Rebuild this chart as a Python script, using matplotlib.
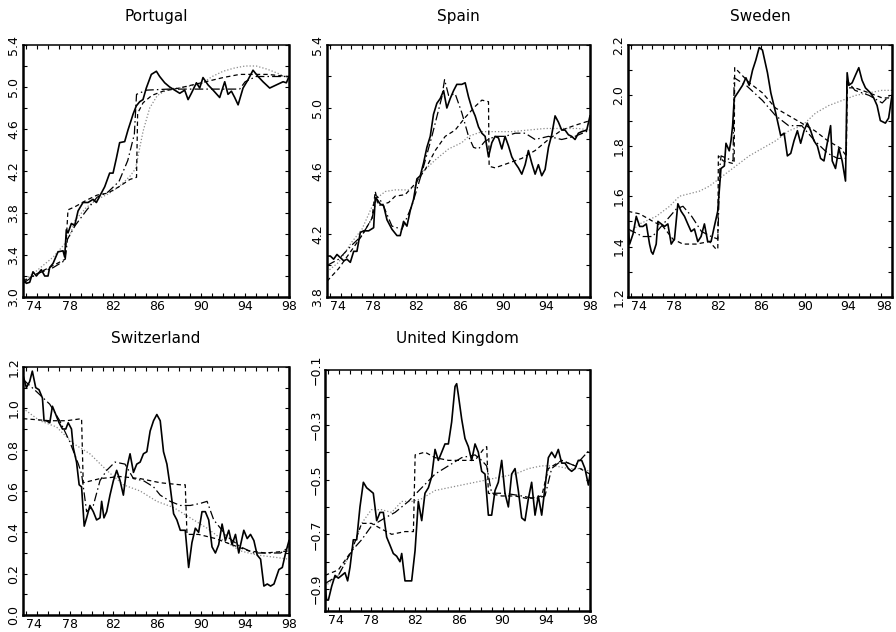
import matplotlib
matplotlib.use('Agg')
import matplotlib.pyplot as plt
from matplotlib.ticker import MultipleLocator, FixedLocator, FuncFormatter

# ---------------- data (years as two-digit years, quarterly-ish readings) ----------------
countries = ["Portugal", "Spain", "Sweden", "Switzerland", "United Kingdom"]

# Portugal
pt_solid_t = [73.75,74.05,74.36,74.66,74.97,75.42,75.73,76.03,76.18,76.49,76.94,77.40,77.55,77.70,77.85,78.16,78.46,78.77,79.22,79.68,80.13,80.44,80.74,81.20,81.65,81.96,82.26,82.56,83.02,83.32,83.63,83.78,84.08,84.39,84.69,84.99,85.45,85.91,86.21,86.67,87.12,87.58,88.04,88.49,88.80,89.10,89.56,89.86,90.16,90.62,91.08,91.68,92.14,92.44,92.75,93.05,93.36,93.81,94.27,94.72,95.18,95.63,96.24,96.85,97.46,97.76,98.00]
pt_solid_v = [3.18,3.13,3.14,3.24,3.20,3.26,3.20,3.20,3.28,3.32,3.43,3.44,3.38,3.64,3.61,3.70,3.68,3.82,3.90,3.90,3.93,3.90,3.96,4.05,4.18,4.18,4.32,4.47,4.48,4.59,4.69,4.74,4.82,4.86,4.88,4.99,5.12,5.15,5.10,5.04,5.00,4.97,4.94,4.97,4.88,4.94,5.04,4.99,5.09,5.02,4.97,4.90,5.05,4.93,4.96,4.90,4.83,4.99,5.07,5.16,5.10,5.05,4.99,5.02,5.05,5.04,5.10]
pt_dash_t = [73.75,75.0,76.5,77.6,77.85,78.5,79.5,80.5,81.5,82.5,83.5,84.1,84.2,84.7,85.5,86.5,88.0,90.0,92.0,93.5,96.0,98.0]
pt_dash_v = [3.15,3.22,3.30,3.36,3.83,3.86,3.92,3.97,3.99,4.05,4.12,4.14,4.75,4.85,4.92,4.96,4.99,5.04,5.09,5.12,5.12,5.10]
pt_dd_t = [73.75,75.0,76.5,77.6,77.8,78.5,79.5,80.5,81.5,82.5,83.3,83.9,84.1,85.0,87.0,90.0,93.5,94.0,95.0,98.0]
pt_dd_v = [3.13,3.22,3.28,3.35,3.55,3.68,3.82,3.95,4.00,4.10,4.30,4.55,4.93,4.97,4.98,4.98,4.98,5.05,5.10,5.10]
pt_dot_t = [73.75,75.0,76.5,77.5,78.0,78.5,79.5,80.5,81.5,82.5,83.5,84.0,84.7,85.3,86.0,87.0,88.5,90.0,91.0,92.0,93.0,94.0,95.0,96.0,97.0,98.0]
pt_dot_v = [3.15,3.25,3.38,3.50,3.58,3.73,3.85,3.93,3.98,4.05,4.15,4.22,4.58,4.80,4.92,4.98,5.00,5.03,5.10,5.15,5.18,5.20,5.20,5.17,5.13,5.08]

# Spain
es_solid_t = [73.75,74.06,74.36,74.67,74.98,75.29,75.59,75.90,76.21,76.51,76.82,77.13,77.59,78.05,78.20,78.36,78.66,78.97,79.28,79.74,80.20,80.50,80.81,81.12,81.43,81.73,82.04,82.35,82.65,82.96,83.27,83.57,83.88,84.19,84.50,84.80,85.11,85.42,85.72,86.18,86.49,86.80,87.10,87.41,87.72,88.03,88.33,88.64,88.95,89.25,89.56,89.87,90.17,90.48,90.79,91.10,91.40,91.71,92.02,92.32,92.63,92.94,93.24,93.55,93.86,94.17,94.47,94.78,95.09,95.39,95.70,96.01,96.31,96.62,96.93,97.24,97.70,98.00]
es_solid_v = [4.06,4.06,4.04,4.07,4.05,4.03,4.04,4.02,4.09,4.09,4.21,4.22,4.22,4.24,4.43,4.42,4.39,4.38,4.29,4.23,4.19,4.19,4.28,4.25,4.35,4.42,4.55,4.57,4.65,4.75,4.82,4.96,5.03,5.06,5.11,5.00,5.06,5.11,5.15,5.15,5.16,5.07,5.00,4.95,4.88,4.84,4.82,4.69,4.78,4.82,4.81,4.74,4.82,4.76,4.69,4.65,4.62,4.58,4.64,4.73,4.65,4.58,4.64,4.57,4.61,4.75,4.83,4.95,4.91,4.86,4.86,4.83,4.82,4.80,4.84,4.85,4.86,4.95]
es_dash_t = [73.75,74.82,76.05,76.97,77.9,78.2,78.5,79.43,80.04,80.96,81.89,82.81,83.73,84.65,85.57,86.49,87.41,88.03,88.64,88.7,89.25,90.48,91.71,92.94,94.17,95.39,96.62,98.0]
es_dash_v = [3.90,3.98,4.10,4.19,4.30,4.47,4.38,4.40,4.44,4.45,4.52,4.61,4.73,4.82,4.86,4.94,5.01,5.05,5.04,4.63,4.62,4.65,4.68,4.73,4.80,4.86,4.89,4.92]
es_dd_t = [73.75,74.82,76.05,76.97,77.9,78.36,78.82,79.74,80.66,81.58,82.5,83.42,84.34,84.59,84.96,85.57,86.18,86.8,87.26,87.72,88.33,89.25,90.17,91.1,92.02,92.94,94.17,95.39,96.62,98.0]
es_dd_v = [4.00,4.04,4.13,4.19,4.30,4.44,4.40,4.25,4.23,4.38,4.59,4.82,5.07,5.18,5.08,5.09,4.97,4.82,4.75,4.74,4.79,4.82,4.82,4.84,4.84,4.80,4.82,4.80,4.82,4.86]
es_dot_t = [73.75,74.82,76.05,76.97,78.2,79.13,80.04,81.27,81.89,82.5,83.73,84.96,86.18,86.8,88.03,89.25,90.79,92.32,93.86,95.39,96.93,98.0]
es_dot_v = [3.96,4.02,4.15,4.23,4.42,4.47,4.48,4.48,4.50,4.59,4.67,4.74,4.78,4.82,4.85,4.85,4.85,4.86,4.87,4.87,4.87,4.86]

# Sweden
se_solid_t = [73.75,73.90,74.21,74.51,74.82,75.12,75.43,75.73,75.89,76.04,76.34,76.50,76.80,77.11,77.41,77.72,78.02,78.33,78.63,78.94,79.24,79.55,79.85,80.16,80.46,80.77,81.07,81.38,81.68,81.99,82.29,82.60,82.75,83.05,83.21,83.36,83.51,83.82,84.27,84.58,84.88,85.19,85.49,85.80,86.10,86.56,86.87,87.32,87.78,88.09,88.39,88.70,89.00,89.31,89.61,89.92,90.22,90.53,90.83,91.14,91.44,91.75,92.05,92.36,92.51,92.81,93.12,93.42,93.73,93.88,94.03,94.34,94.64,94.95,95.25,95.56,96.02,96.32,96.63,96.93,97.39,97.69,98.00]
se_solid_v = [1.48,1.41,1.45,1.52,1.48,1.48,1.49,1.41,1.38,1.37,1.41,1.50,1.49,1.48,1.49,1.41,1.43,1.57,1.54,1.52,1.49,1.46,1.47,1.42,1.44,1.49,1.42,1.42,1.48,1.54,1.71,1.72,1.81,1.78,1.82,1.88,1.99,2.01,2.04,2.07,2.04,2.10,2.14,2.19,2.18,2.09,2.01,1.93,1.84,1.85,1.76,1.77,1.82,1.86,1.81,1.86,1.89,1.86,1.82,1.80,1.75,1.74,1.81,1.88,1.74,1.71,1.79,1.74,1.66,2.09,2.04,2.05,2.08,2.11,2.06,2.03,2.01,1.99,1.96,1.90,1.89,1.91,2.00]
se_dash_t = [73.75,74.82,76.04,76.96,77.87,78.79,80.01,81.23,81.84,82.0,82.05,82.5,83.36,83.5,83.55,84.9,86.1,87.3,88.5,89.7,90.9,92.1,93.3,93.8,93.9,94.6,95.9,97.1,98.0]
se_dash_v = [1.54,1.53,1.50,1.48,1.43,1.41,1.41,1.42,1.39,1.39,1.76,1.74,1.73,1.73,2.11,2.05,2.01,1.95,1.92,1.89,1.86,1.82,1.79,1.76,2.03,2.03,2.01,1.99,1.99]
se_dd_t = [73.75,75.1,76.0,77.0,78.2,78.8,79.6,80.5,81.4,82.0,82.2,82.3,83.4,83.5,84.6,86.1,87.3,88.5,89.7,90.9,92.1,93.0,93.8,93.85,94.6,95.9,97.1,98.0]
se_dd_v = [1.47,1.44,1.44,1.49,1.55,1.56,1.52,1.46,1.44,1.43,1.72,1.76,1.74,2.07,2.04,1.98,1.92,1.88,1.88,1.82,1.77,1.75,1.75,2.06,2.02,2.00,1.97,2.01]
se_dot_t = [73.75,74.82,76.34,77.57,78.48,79.4,80.31,81.23,82.14,83.05,83.97,84.88,86.1,87.32,88.54,89.76,90.98,92.2,93.42,94.64,95.86,97.08,98.0]
se_dot_v = [1.45,1.49,1.52,1.56,1.60,1.61,1.62,1.64,1.67,1.70,1.73,1.76,1.79,1.82,1.86,1.88,1.93,1.96,1.98,2.00,2.01,2.02,2.02]

# Switzerland
ch_solid_t = [73.75,74.06,74.36,74.60,74.91,75.21,75.52,75.67,75.89,76.19,76.43,76.74,77.04,77.35,77.65,77.87,78.17,78.33,78.63,78.87,79.09,79.33,79.55,79.85,80.16,80.46,80.77,80.92,81.13,81.38,81.68,81.99,82.29,82.60,82.90,83.21,83.51,83.82,84.12,84.43,84.73,85.04,85.34,85.65,85.95,86.26,86.56,86.87,87.17,87.48,87.78,88.09,88.54,88.85,89.15,89.46,89.76,90.07,90.37,90.68,90.98,91.29,91.59,91.90,92.20,92.51,92.81,93.12,93.42,93.88,94.19,94.49,94.80,95.10,95.41,95.71,96.02,96.32,96.63,97.08,97.39,97.69,98.00]
ch_solid_v = [1.16,1.10,1.13,1.18,1.10,1.09,1.05,0.94,0.94,0.93,1.01,0.97,0.93,0.90,0.90,0.93,0.90,0.81,0.74,0.63,0.62,0.43,0.47,0.53,0.50,0.46,0.47,0.55,0.47,0.50,0.58,0.65,0.70,0.65,0.58,0.71,0.78,0.69,0.73,0.74,0.78,0.79,0.89,0.94,0.97,0.94,0.79,0.73,0.62,0.49,0.46,0.41,0.41,0.23,0.35,0.42,0.40,0.50,0.50,0.46,0.33,0.30,0.34,0.44,0.36,0.41,0.34,0.39,0.30,0.41,0.37,0.39,0.36,0.29,0.27,0.14,0.15,0.14,0.15,0.22,0.23,0.30,0.36]
ch_dash_t = [73.75,76.19,77.72,79.09,79.24,80.77,82.6,84.43,86.26,88.09,88.54,88.7,89.76,91.29,92.81,94.34,95.86,98.0]
ch_dash_v = [0.95,0.94,0.94,0.95,0.64,0.66,0.67,0.66,0.64,0.63,0.63,0.39,0.39,0.37,0.34,0.31,0.30,0.31]
ch_dd_t = [73.75,75.0,76.19,77.1,78.0,78.8,79.1,79.55,80.16,80.77,81.38,82.14,83.05,83.82,84.73,85.65,86.26,87.17,88.09,89.0,89.92,90.53,91.14,92.36,93.58,94.8,96.02,97.24,98.0]
ch_dd_v = [1.14,1.08,1.02,0.94,0.84,0.73,0.68,0.50,0.53,0.65,0.70,0.74,0.73,0.66,0.65,0.62,0.58,0.55,0.53,0.53,0.54,0.55,0.46,0.38,0.33,0.30,0.30,0.30,0.33]
ch_dot_t = [73.75,75.28,76.8,78.33,79.85,81.38,82.9,84.43,85.95,87.48,89.0,90.53,92.05,93.58,95.1,96.63,98.0]
ch_dot_v = [1.00,0.94,0.91,0.83,0.78,0.70,0.63,0.60,0.55,0.52,0.47,0.42,0.36,0.31,0.29,0.28,0.27]

# United Kingdom
uk_solid_t = [73.75,73.90,74.06,74.36,74.67,74.97,75.28,75.58,75.82,76.04,76.34,76.65,76.95,77.26,77.56,77.87,78.17,78.48,78.78,79.09,79.39,79.70,80.00,80.31,80.61,80.77,81.07,81.38,81.68,81.99,82.29,82.60,82.90,83.21,83.51,83.82,84.12,84.43,84.73,85.04,85.34,85.65,85.80,85.95,86.26,86.56,86.87,87.17,87.48,87.78,88.09,88.39,88.70,89.00,89.31,89.61,89.92,90.22,90.53,90.83,91.14,91.44,91.75,92.05,92.36,92.66,92.97,93.27,93.58,93.88,94.19,94.49,94.80,95.10,95.41,95.71,96.02,96.32,96.63,96.93,97.24,97.54,97.85,98.00]
uk_solid_v = [-0.89,-0.94,-0.94,-0.89,-0.85,-0.86,-0.85,-0.84,-0.87,-0.82,-0.72,-0.72,-0.60,-0.51,-0.53,-0.54,-0.55,-0.65,-0.62,-0.62,-0.71,-0.74,-0.77,-0.78,-0.80,-0.77,-0.87,-0.87,-0.87,-0.76,-0.58,-0.65,-0.55,-0.53,-0.49,-0.39,-0.43,-0.40,-0.37,-0.37,-0.29,-0.16,-0.15,-0.19,-0.28,-0.35,-0.38,-0.43,-0.37,-0.40,-0.47,-0.48,-0.63,-0.63,-0.54,-0.51,-0.43,-0.55,-0.60,-0.48,-0.46,-0.54,-0.64,-0.65,-0.57,-0.51,-0.63,-0.56,-0.63,-0.53,-0.42,-0.40,-0.42,-0.39,-0.44,-0.44,-0.46,-0.47,-0.46,-0.43,-0.43,-0.46,-0.52,-0.48]
uk_dash_t = [73.75,74.97,76.2,77.1,78.0,78.9,79.85,81.07,81.84,82.0,82.9,83.82,85.04,86.26,87.48,88.24,88.55,88.7,89.92,91.14,92.36,93.58,94.19,95.41,96.63,98.0]
uk_dash_v = [-0.85,-0.83,-0.76,-0.66,-0.66,-0.68,-0.70,-0.69,-0.69,-0.41,-0.40,-0.42,-0.43,-0.43,-0.43,-0.39,-0.38,-0.55,-0.56,-0.56,-0.57,-0.56,-0.46,-0.43,-0.45,-0.48]
uk_dd_t = [73.75,74.97,76.2,77.1,78.0,79.24,80.16,81.38,82.6,83.82,85.04,86.26,87.48,88.09,88.54,89.0,90.22,91.75,92.97,93.88,94.49,95.41,96.63,97.54,98.0]
uk_dd_v = [-0.88,-0.85,-0.76,-0.72,-0.67,-0.64,-0.62,-0.58,-0.53,-0.48,-0.45,-0.42,-0.41,-0.43,-0.45,-0.55,-0.55,-0.56,-0.57,-0.56,-0.46,-0.43,-0.45,-0.41,-0.39]
uk_dot_t = [73.75,74.97,76.2,77.1,78.0,78.9,79.85,80.77,81.7,82.6,83.82,85.04,86.26,87.48,88.7,89.92,91.14,92.36,93.58,94.8,96.02,97.24,98.0]
uk_dot_v = [-0.89,-0.85,-0.76,-0.66,-0.61,-0.61,-0.62,-0.58,-0.58,-0.57,-0.54,-0.53,-0.52,-0.51,-0.50,-0.49,-0.48,-0.46,-0.45,-0.45,-0.46,-0.46,-0.47]

x_ticks = [74, 78, 82, 86, 90, 94, 98]
y_limits = [(3.0, 5.4), (3.8, 5.4), (1.2, 2.2), (0.0, 1.2), (-0.98, -0.1)]
y_ticks = [[3.0, 3.4, 3.8, 4.2, 4.6, 5.0, 5.4],
           [3.8, 4.2, 4.6, 5.0, 5.4],
           [1.2, 1.4, 1.6, 1.8, 2.0, 2.2],
           [0.0, 0.2, 0.4, 0.6, 0.8, 1.0, 1.2],
           [-0.9, -0.7, -0.5, -0.3, -0.1]]

series = [
    (pt_solid_t, pt_solid_v, pt_dash_t, pt_dash_v, pt_dd_t, pt_dd_v, pt_dot_t, pt_dot_v),
    (es_solid_t, es_solid_v, es_dash_t, es_dash_v, es_dd_t, es_dd_v, es_dot_t, es_dot_v),
    (se_solid_t, se_solid_v, se_dash_t, se_dash_v, se_dd_t, se_dd_v, se_dot_t, se_dot_v),
    (ch_solid_t, ch_solid_v, ch_dash_t, ch_dash_v, ch_dd_t, ch_dd_v, ch_dot_t, ch_dot_v),
    (uk_solid_t, uk_solid_v, uk_dash_t, uk_dash_v, uk_dd_t, uk_dd_v, uk_dot_t, uk_dot_v),
]

# ---------------- layout (pixel boxes: left, top, right, bottom) ----------------
W, H = 896, 632
boxes = [(23, 45, 289, 297), (327, 45, 590, 297), (628, 45, 892, 297),
         (23, 367, 289, 615), (325, 370, 590, 611)]
title_baseline = [21, 21, 21, 343, 343]

plt.rcParams['font.family'] = ['DejaVu Sans']
fig = plt.figure(figsize=(W / 100, H / 100), dpi=100)
fig.patch.set_facecolor('white')

for i, name in enumerate(countries):
    l, t, r, b = boxes[i]
    ax = fig.add_axes([l / W, 1 - b / H, (r - l) / W, (b - t) / H])
    st, sv, dt, dv, ddt, ddv, ot, ov = series[i]
    ax.plot(ot, ov, color='#8a8a8a', lw=0.9, linestyle=(0, (1, 1.6)))
    ax.plot(dt, dv, color='black', lw=0.9, linestyle=(0, (3.5, 2.5)))
    ax.plot(ddt, ddv, color='black', lw=0.9, linestyle=(0, (7, 2.5, 1.2, 2.5)))
    ax.plot(st, sv, color='black', lw=1.2, linestyle='-')

    ax.set_xlim(73.75, 98.0)
    ax.set_ylim(*y_limits[i])
    ax.xaxis.set_major_locator(FixedLocator(x_ticks))
    ax.xaxis.set_minor_locator(MultipleLocator(1))
    ax.set_xticklabels([str(v) for v in x_ticks])
    yt = y_ticks[i]
    ax.yaxis.set_major_locator(FixedLocator(yt))
    step = yt[1] - yt[0]
    ax.yaxis.set_minor_locator(MultipleLocator(step / 2))
    ax.yaxis.set_major_formatter(FuncFormatter(lambda v, p: ('%.1f' % v).replace('-', '\u2212')))
    ax.tick_params(axis='both', which='both', direction='in', top=True, right=True,
                   length=3, width=0.8, labelsize=9, pad=2)
    ax.tick_params(axis='y', which='major', labelrotation=90)
    for lab in ax.get_yticklabels():
        lab.set_va('center')
    xl = ax.get_xticklabels()
    xl[0].set_ha('left')
    if r > 880:
        xl[-1].set_ha('right')
    for side in ['left', 'bottom', 'right']:
        ax.spines[side].set_linewidth(1.8)
    ax.spines['top'].set_linewidth(1.1)
    fig.text(((l + r) / 2) / W, 1 - title_baseline[i] / H, name, ha='center',
             va='baseline', fontsize=11)

fig.savefig('out.png', dpi=100, facecolor='white')
